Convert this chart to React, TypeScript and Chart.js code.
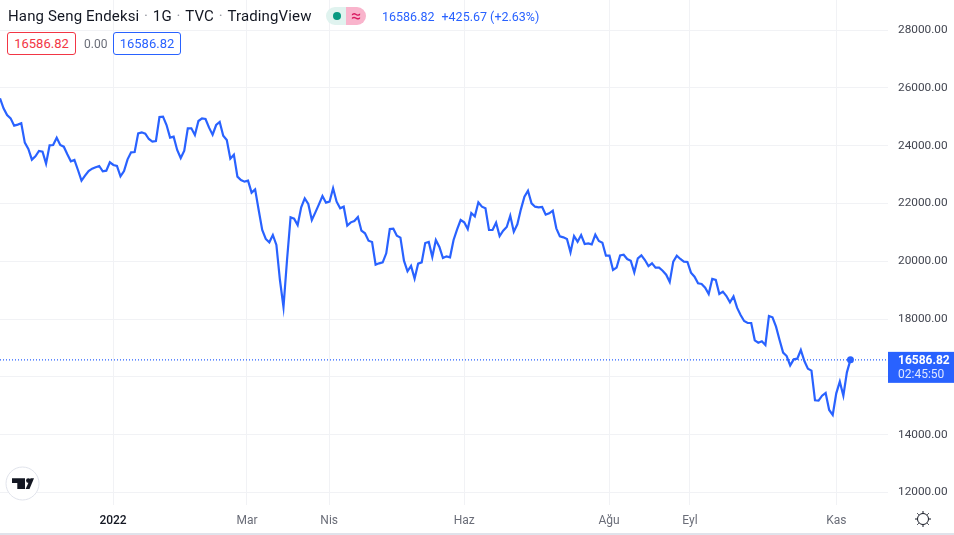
import React, { useEffect, useRef } from "react";
import { Chart, registerables } from "chart.js";

Chart.register(...registerables);

const closes: number[] = [
  25636, 25290, 25059, 24944, 24690, 24725, 24771, 24102, 23883, 23514, 23629, 23813, 23790, 23375, 24010, 24021,
  24275, 24021, 23963, 23698, 23456, 23502, 23156, 22787, 22960, 23121, 23202, 23248, 23294, 23110, 23133, 23421,
  23329, 23294, 22937, 23121, 23525, 23767, 23779, 24425, 24459, 24413, 24229, 24136, 24159, 24990, 25001, 24713,
  24275, 24309, 23848, 23571, 23825, 24598, 24598, 24367, 24851, 24944, 24921, 24621, 24379, 24713, 24817, 24344,
  24194, 23548, 23687, 22925, 22810, 22752, 22787, 22372, 22487, 21772, 21080, 20769, 20653, 20907, 20561, 19350,
  18416, 20042, 21518, 21472, 21253, 21864, 22176, 21980, 21426, 21691, 21968, 22256, 22026, 22060, 22522, 22060,
  21830, 21887, 21230, 21345, 21391, 21530, 21057, 20965, 20711, 20665, 19881, 19927, 19961, 20273, 21115, 21126,
  20884, 20815, 20019, 19650, 19835, 19396, 19915, 19961, 20630, 20665, 20146, 20734, 20492, 20111, 20169, 20134,
  20734, 21103, 21426, 21345, 21115, 21668, 21553, 22037, 21887, 21830, 21080, 21080, 21334, 20872, 21057, 21184,
  21576, 21022, 21276, 21795, 22233, 22441, 22003, 21887, 21864, 21876, 21611, 21657, 21749, 21138, 20861, 20826,
  20769, 20307, 20872, 20676, 20907, 20596, 20619, 20584, 20919, 20699, 20642, 20192, 20192, 19696, 19777, 20203,
  20226, 20077, 20019, 19615, 20100, 20203, 20042, 19834, 19927, 19777, 19777, 19673, 19535, 19281, 19984, 20192,
  20077, 19984, 19973, 19604, 19465, 19235, 19212, 19085, 18866, 19385, 19350, 18866, 18946, 18796, 18577, 18785,
  18393, 18139, 17931, 17862, 17862, 17263, 17182, 17228, 17101, 18105, 18058, 17735, 17274, 16836, 16720, 16397,
  16605, 16628, 16928, 16548, 16282, 16213, 15187, 15175, 15348, 15440, 14852, 14679, 15429, 15832, 15348, 16155,
  16586.82,
];

const monthLabels: string[] = ["2022", "Mar", "Nis", "Haz", "Ağu", "Eyl", "Kas"];
const monthIndexes: number[] = [31.9, 69.7, 92.9, 131, 171.9, 194.7, 236];
const priceTicks: number[] = [12000, 14000, 16000, 18000, 20000, 22000, 24000, 26000, 28000];
const titleParts: string[] = ["Hang Seng Endeksi", "1G", "TVC", "TradingView"];
const lastPrice = 16586.82;
const FONT = "Roboto, sans-serif";
const BLUE = "#2962ff";
const GRID = "#f1f2f5";
const X_MAX = 250.6;

const noPadding = (axis: any) => {
  axis.paddingLeft = 0;
  axis.paddingRight = 0;
  axis.paddingTop = 0;
  axis.paddingBottom = 0;
};

const priceTag = {
  id: "priceTag",
  afterDraw(chart: any) {
    const { ctx } = chart;
    const y = chart.scales.y.getPixelForValue(lastPrice);
    const x = chart.chartArea.right;
    ctx.save();
    ctx.fillStyle = BLUE;
    ctx.fillRect(x, y - 8, 66, 31);
    ctx.textBaseline = "middle";
    ctx.textAlign = "left";
    ctx.fillStyle = "#ffffff";
    ctx.font = `bold 12px ${FONT}`;
    ctx.fillText(lastPrice.toFixed(2), x + 10, y + 1.2);
    ctx.fillStyle = "rgba(255,255,255,0.85)";
    ctx.font = `12px ${FONT}`;
    ctx.fillText("02:45:50", x + 10, y + 15.5);
    ctx.restore();
  },
};

const box = (color: string, left: number, width: number): React.CSSProperties => ({
  position: "absolute",
  left,
  top: 32,
  width,
  height: 23,
  boxSizing: "border-box",
  border: `1px solid ${color}`,
  borderRadius: 3,
  color,
  fontSize: 13,
  lineHeight: "21px",
  textAlign: "center",
  background: "#fff",
});

export default function App() {
  const ref = useRef<HTMLCanvasElement>(null);

  useEffect(() => {
    const indexes = closes.map((_, i) => i);
    const chart = new Chart(ref.current as HTMLCanvasElement, {
      type: "line",
      data: {
        datasets: [
          {
            data: indexes.map((i) => ({ x: i, y: closes[i] })),
            borderColor: BLUE,
            backgroundColor: BLUE,
            borderWidth: 2.2,
            tension: 0,
            pointRadius: indexes.map((i) => (i === closes.length - 1 ? 3.5 : 0)),
            pointBorderWidth: 0,
            order: 1,
          },
          {
            data: [
              { x: 0, y: lastPrice },
              { x: X_MAX, y: lastPrice },
            ],
            borderColor: BLUE,
            borderWidth: 1.4,
            borderDash: [1, 2],
            pointRadius: 0,
            order: 2,
          },
        ],
      },
      options: {
        animation: false,
        responsive: false,
        events: [],
        layout: { padding: 0, autoPadding: false },
        plugins: { legend: { display: false }, tooltip: { enabled: false } },
        scales: {
          x: {
            type: "linear",
            min: 0,
            max: X_MAX,
            border: { display: false },
            grid: { color: GRID, drawTicks: false, lineWidth: 1 },
            afterFit(axis: any) {
              axis.height = 30;
              noPadding(axis);
            },
            afterBuildTicks(axis: any) {
              axis.ticks = monthIndexes.map((value) => ({ value }));
            },
            ticks: {
              autoSkip: false,
              maxRotation: 0,
              padding: 9,
              callback: (value: any) => monthLabels[monthIndexes.indexOf(Number(value))] ?? "",
              color: (c: any) => (c.index === 0 ? "#131722" : "#6a6d78"),
              font: (c: any) => ({ family: FONT, size: 12, weight: c.index === 0 ? 500 : 400 }),
            },
          },
          y: {
            position: "right",
            min: 11565,
            max: 29038,
            border: { display: false },
            grid: { color: GRID, drawTicks: false, lineWidth: 1 },
            afterFit(axis: any) {
              axis.width = 66;
              noPadding(axis);
            },
            afterBuildTicks(axis: any) {
              axis.ticks = priceTicks.map((value) => ({ value }));
            },
            ticks: {
              padding: 10,
              color: "#434651",
              font: { family: FONT, size: 11.8 },
              callback: (value: any) => Number(value).toFixed(2),
            },
          },
        },
      },
      plugins: [priceTag],
    } as any);
    return () => chart.destroy();
  }, []);

  return (
    <div
      style={{
        position: "fixed",
        left: 0,
        top: 0,
        width: 954,
        height: 535,
        overflow: "hidden",
        background: "#fff",
        fontFamily: FONT,
      }}
    >
      <canvas ref={ref} width={954} height={535} style={{ display: "block", width: 954, height: 535 }} />
      <div style={{ position: "absolute", left: 0, right: 0, top: 533, height: 2, background: "#e0e3eb" }} />
      <div
        style={{
          position: "absolute",
          left: 8,
          top: 7,
          fontSize: 15,
          letterSpacing: 0.15,
          lineHeight: "19px",
          color: "#131722",
          whiteSpace: "nowrap",
        }}
      >
        {titleParts.map((part, i) => (
          <span key={part}>
            {i > 0 && <span style={{ margin: "0 4.7px", color: "#9598a1" }}>·</span>}
            {part}
          </span>
        ))}
      </div>
      <div
        style={{
          position: "absolute",
          left: 326,
          top: 7,
          width: 20,
          height: 18,
          borderRadius: "9px 0 0 9px",
          background: "#e0f3ef",
        }}
      >
        <div
          style={{
            position: "absolute",
            left: 7,
            top: 5,
            width: 8,
            height: 8,
            borderRadius: 4,
            background: "#089981",
          }}
        />
      </div>
      <div
        style={{
          position: "absolute",
          left: 346,
          top: 7,
          width: 20,
          height: 18,
          borderRadius: "0 9px 9px 0",
          background: "#f9b4cc",
          color: "#d81b60",
          fontSize: 18,
          lineHeight: "17px",
          textAlign: "center",
        }}
      >
        ≈
      </div>
      <div
        style={{
          position: "absolute",
          left: 382,
          top: 8,
          fontSize: 12.5,
          lineHeight: "18px",
          color: BLUE,
          whiteSpace: "nowrap",
        }}
      >
        16586.82
        <span style={{ marginLeft: 7 }}>+425.67 (+2.63%)</span>
      </div>
      <div style={box("#f23645", 7, 69)}>16586.82</div>
      <div style={{ position: "absolute", left: 84, top: 36, fontSize: 12, lineHeight: "16px", color: "#6a6d78" }}>0.00</div>
      <div style={box(BLUE, 113, 68)}>16586.82</div>
      <svg style={{ position: "absolute", left: 5, top: 466 }} width={35} height={35} viewBox="0 0 35 35">
        <circle cx={17.5} cy={17.5} r={16.5} fill="#fff" stroke="#e0e3eb" strokeWidth={1} />
        <path d="M7 12.3h13V23h-7.7v-6H7z" fill="#131722" />
        <circle cx={23.3} cy={14.6} r={2.3} fill="#131722" />
        <path d="M29 12.3h-3.5L20.6 23h3.9z" fill="#131722" />
      </svg>
      <svg
        style={{ position: "absolute", left: 914, top: 510 }}
        width={18}
        height={18}
        viewBox="0 0 18 18"
        fill="none"
        stroke="#131722"
        strokeWidth={1}
      >
        <circle cx={9} cy={9} r={5.5} />
        <path d="M9 1v2M9 15v2M1 9h2M15 9h2M3.3 3.3l1.4 1.4M13.3 13.3l1.4 1.4M3.3 14.7l1.4-1.4M13.3 4.7l1.4-1.4" />
      </svg>
    </div>
  );
}
